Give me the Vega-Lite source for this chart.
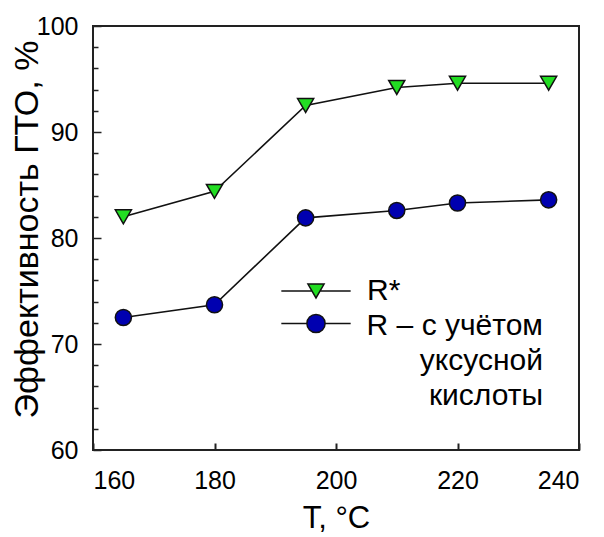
{
  "$schema": "https://vega.github.io/schema/vega-lite/v6.json",
  "width": 486,
  "height": 424,
  "autosize": "none",
  "padding": {"left": 93, "top": 26, "right": 25, "bottom": 87},
  "background": "white",
  "config": {
    "view": {"stroke": "#222", "strokeWidth": 2},
    "font": "Liberation Sans",
    "style": {"guide-label": {"lineHeight": 35}}
  },
  "data": {
    "values": [
      {"T": 165, "E": 82.0, "s": "R*"},
      {"T": 180, "E": 84.4, "s": "R*"},
      {"T": 195, "E": 92.5, "s": "R*"},
      {"T": 210, "E": 94.2, "s": "R*"},
      {"T": 220, "E": 94.6, "s": "R*"},
      {"T": 235, "E": 94.6, "s": "R*"},
      {"T": 165, "E": 72.5, "s": "R"},
      {"T": 180, "E": 73.7, "s": "R"},
      {"T": 195, "E": 81.9, "s": "R"},
      {"T": 210, "E": 82.6, "s": "R"},
      {"T": 220, "E": 83.3, "s": "R"},
      {"T": 235, "E": 83.6, "s": "R"}
    ]
  },
  "encoding": {
    "x": {
      "field": "T", "type": "quantitative",
      "scale": {"domain": [160, 240], "nice": false, "zero": false},
      "axis": {
        "title": "T, °C",
        "values": [160, 180, 200, 220, 240],
        "domain": false, "grid": false,
        "tickSize": -7, "tickWidth": 2, "tickColor": "#222",
        "labelFontSize": 25, "labelColor": "#000", "labelPadding": 25,
        "titleFontSize": 31, "titleFontWeight": "normal", "titleColor": "#000",
        "titlePadding": 10
      }
    },
    "y": {
      "field": "E", "type": "quantitative",
      "scale": {"domain": [60, 100], "nice": false, "zero": false},
      "axis": {
        "title": "Эффективность ГТО, %",
        "values": [60, 62, 64, 66, 68, 70, 72, 74, 76, 78, 80, 82, 84, 86, 88, 90, 92, 94, 96, 98, 100],
        "labelExpr": "datum.value % 10 === 0 ? datum.label : ''",
        "domain": false, "grid": false,
        "tickSize": {"condition": {"test": "datum.value % 10 === 0", "value": -8}, "value": -5},
        "tickWidth": 1.5, "tickColor": "#222",
        "labelFontSize": 25, "labelColor": "#000", "labelPadding": 23,
        "titleFontSize": 34, "titleFontWeight": "normal", "titleColor": "#000",
        "titlePadding": -8, "titleY": 203
      }
    }
  },
  "layer": [
    {
      "mark": {"type": "line", "color": "#111", "strokeWidth": 1.6},
      "encoding": {"detail": {"field": "s"}}
    },
    {
      "transform": [{"filter": "datum.s === 'R*'"}],
      "mark": {"type": "point", "shape": "triangle-down", "filled": true, "opacity": 1, "stroke": "#111", "strokeWidth": 1.5, "size": 260},
      "encoding": {
        "fill": {
          "field": "s", "type": "nominal",
          "scale": {"domain": ["R*"], "range": ["#22dd22"]},
          "legend": {
            "orient": "none", "legendX": 208, "legendY": 250,
            "title": null,
            "labelFontSize": 30, "labelColor": "#000", "labelLimit": 500,
            "labelOffset": 36, "padding": 0,
            "symbolType": "M-4.3,0H-0.5M0.5,0H4.3M-1,-0.866L1,-0.866L0,0.866Z",
            "symbolStrokeColor": "#111", "symbolStrokeWidth": 1.5, "symbolSize": 260
          }
        }
      }
    },
    {
      "transform": [{"filter": "datum.s === 'R'"}],
      "mark": {"type": "point", "shape": "circle", "filled": true, "opacity": 1, "stroke": "#111", "strokeWidth": 1.5, "size": 260},
      "encoding": {
        "fill": {
          "field": "s", "type": "nominal",
          "scale": {"domain": ["R"], "range": ["#0000b0"]},
          "legend": {
            "orient": "none", "legendX": 208, "legendY": 270,
            "title": null,
            "labelFontSize": 30, "labelColor": "#000", "labelLimit": 500,
            "labelOffset": 212, "labelAlign": "right", "labelBaseline": "top", "padding": 0,
            "labelExpr": "['R – с учётом', 'уксусной', 'кислоты']",
            "symbolType": "M-4.3,1.55H-1.13M1.13,1.55H4.3M1.13,1.55A1.13,1.13,0,1,1,-1.13,1.55A1.13,1.13,0,1,1,1.13,1.55Z",
            "symbolStrokeColor": "#111", "symbolStrokeWidth": 1.5, "symbolSize": 260
          }
        }
      }
    }
  ],
  "resolve": {"scale": {"fill": "independent"}, "legend": {"fill": "independent"}}
}
